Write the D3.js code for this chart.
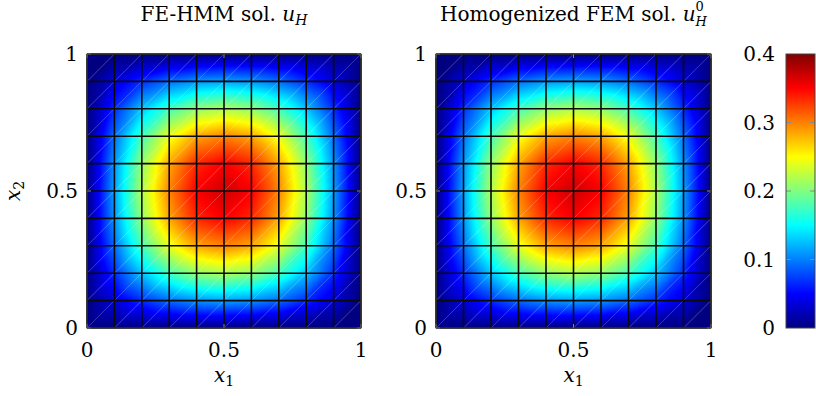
<!DOCTYPE html>
<html><head><meta charset="utf-8">
<script src="https://cdn.jsdelivr.net/npm/d3@7"></script>
<style>
html,body{margin:0;padding:0;background:#fff;}
text{font-family:"DejaVu Serif",serif;fill:#000;}
</style></head>
<body><svg id="chart" width="816" height="396"></svg>
<script>
// ---- data ----
const gridX = [0,0.1,0.2,0.3,0.4,0.5,0.6,0.7,0.8,0.9,1];
const gridY = [0,0.1,0.2,0.3,0.4,0.5,0.6,0.7,0.8,0.9,1];
// nodal values, rows = x2 (bottom to top), columns = x1 (left to right)
const uHMM = [
 [0,0,0,0,0,0,0,0,0,0,0],
 [0,0.035,0.067,0.093,0.109,0.114,0.109,0.093,0.067,0.035,0],
 [0,0.067,0.128,0.176,0.207,0.218,0.207,0.176,0.128,0.067,0],
 [0,0.093,0.176,0.242,0.285,0.299,0.285,0.242,0.176,0.093,0],
 [0,0.109,0.207,0.285,0.335,0.352,0.335,0.285,0.207,0.109,0],
 [0,0.114,0.218,0.299,0.352,0.370,0.352,0.299,0.218,0.114,0],
 [0,0.109,0.207,0.285,0.335,0.352,0.335,0.285,0.207,0.109,0],
 [0,0.093,0.176,0.242,0.285,0.299,0.285,0.242,0.176,0.093,0],
 [0,0.067,0.128,0.176,0.207,0.218,0.207,0.176,0.128,0.067,0],
 [0,0.035,0.067,0.093,0.109,0.114,0.109,0.093,0.067,0.035,0],
 [0,0,0,0,0,0,0,0,0,0,0]
];
const uHom = [
 [0,0,0,0,0,0,0,0,0,0,0],
 [0,0.035,0.067,0.093,0.109,0.114,0.109,0.093,0.067,0.035,0],
 [0,0.067,0.128,0.176,0.207,0.218,0.207,0.176,0.128,0.067,0],
 [0,0.093,0.176,0.242,0.285,0.299,0.285,0.242,0.176,0.093,0],
 [0,0.109,0.207,0.285,0.335,0.352,0.335,0.285,0.207,0.109,0],
 [0,0.114,0.218,0.299,0.352,0.370,0.352,0.299,0.218,0.114,0],
 [0,0.109,0.207,0.285,0.335,0.352,0.335,0.285,0.207,0.109,0],
 [0,0.093,0.176,0.242,0.285,0.299,0.285,0.242,0.176,0.093,0],
 [0,0.067,0.128,0.176,0.207,0.218,0.207,0.176,0.128,0.067,0],
 [0,0.035,0.067,0.093,0.109,0.114,0.109,0.093,0.067,0.035,0],
 [0,0,0,0,0,0,0,0,0,0,0]
];
const axisTicks = [0, 0.5, 1];
const axisTickLabels = ["0", "0.5", "1"];
const cbTicks = [0, 0.1, 0.2, 0.3, 0.4];
const cbTickLabels = ["0", "0.1", "0.2", "0.3", "0.4"];
const cbRange = [0, 0.4];
const jetColors = ["#000080","#0000ff","#00ffff","#ffff00","#ff0000","#800000"];
const jetPos = [0, 1/8, 3/8, 5/8, 7/8, 1];

// ---- setup ----
const svg = d3.select("#chart");
const defs = svg.append("defs");
const jetDomain = jetPos.map(p => cbRange[0] + p*(cbRange[1]-cbRange[0]));
const color = d3.scaleLinear().domain(jetDomain).range(jetColors).interpolate(d3.interpolateRgb).clamp(true);

const TOP = 54, BOTTOM = 328;

function drawPanel(id, data, left, right, titleFn) {
  const x = d3.scaleLinear().domain([0,1]).range([left, right]);
  const y = d3.scaleLinear().domain([0,1]).range([BOTTOM, TOP]);
  const g = svg.append("g");
  const tris = [];
  for (let j = 0; j < gridY.length-1; j++) {
    for (let i = 0; i < gridX.length-1; i++) {
      tris.push([[i,j],[i+1,j],[i+1,j+1]]);
      tris.push([[i,j],[i+1,j+1],[i,j+1]]);
    }
  }
  tris.forEach((t, k) => {
    const P = t.map(([i,j]) => [x(gridX[i]), y(gridY[j])]);
    const V = t.map(([i,j]) => data[j][i]);
    const e1 = [P[1][0]-P[0][0], P[1][1]-P[0][1]];
    const e2 = [P[2][0]-P[0][0], P[2][1]-P[0][1]];
    const d1 = V[1]-V[0], d2 = V[2]-V[0];
    const det = e1[0]*e2[1] - e1[1]*e2[0];
    const a = (d1*e2[1] - e1[1]*d2)/det;
    const b = (e1[0]*d2 - d1*e2[0])/det;
    const g2 = a*a + b*b;
    let fill;
    if (g2 < 1e-14) {
      fill = color(V[0]);
    } else {
      const vmin = d3.min(V), vmax = d3.max(V);
      const gid = `g${id}_${k}`;
      const A = [P[0][0] + (vmin-V[0])*a/g2, P[0][1] + (vmin-V[0])*b/g2];
      const B = [P[0][0] + (vmax-V[0])*a/g2, P[0][1] + (vmax-V[0])*b/g2];
      const lg = defs.append("linearGradient").attr("id", gid)
        .attr("gradientUnits", "userSpaceOnUse")
        .attr("x1", A[0]).attr("y1", A[1]).attr("x2", B[0]).attr("y2", B[1]);
      const stops = [[0, color(vmin)]];
      jetDomain.forEach(v => { if (v > vmin && v < vmax) stops.push([(v-vmin)/(vmax-vmin), color(v)]); });
      stops.push([1, color(vmax)]);
      lg.selectAll("stop").data(stops).enter().append("stop")
        .attr("offset", d => d[0]).attr("stop-color", d => d[1]);
      fill = `url(#${gid})`;
    }
    g.append("path").attr("d", "M" + P.map(p => p.join(",")).join("L") + "Z")
      .attr("fill", fill).attr("stroke", fill).attr("stroke-width", 0.6).attr("stroke-linejoin", "round");
  });
  // diagonals (triangle edges)
  for (let j = 0; j < gridY.length-1; j++) {
    for (let i = 0; i < gridX.length-1; i++) {
      g.append("line").attr("x1", x(gridX[i])).attr("y1", y(gridY[j]))
        .attr("x2", x(gridX[i+1])).attr("y2", y(gridY[j+1]))
        .attr("stroke", "#fff").attr("stroke-opacity", 0.35).attr("stroke-width", 0.5);
    }
  }
  // coarse grid
  gridX.forEach(v => g.append("line").attr("x1", x(v)).attr("x2", x(v)).attr("y1", y(0)).attr("y2", y(1))
    .attr("stroke", "#0a0a0a").attr("stroke-width", 1.6));
  gridY.forEach(v => g.append("line").attr("y1", y(v)).attr("y2", y(v)).attr("x1", x(0)).attr("x2", x(1))
    .attr("stroke", "#0a0a0a").attr("stroke-width", 1.6));
  // ticks (inward, all sides)
  const tk = 4;
  axisTicks.forEach(v => {
    g.append("line").attr("x1", x(v)).attr("x2", x(v)).attr("y1", BOTTOM).attr("y2", BOTTOM-tk).attr("stroke", "#888").attr("stroke-width", 1);
    g.append("line").attr("x1", x(v)).attr("x2", x(v)).attr("y1", TOP).attr("y2", TOP+tk).attr("stroke", "#888").attr("stroke-width", 1);
    g.append("line").attr("y1", y(v)).attr("y2", y(v)).attr("x1", left).attr("x2", left+tk).attr("stroke", "#888").attr("stroke-width", 1);
    g.append("line").attr("y1", y(v)).attr("y2", y(v)).attr("x1", right).attr("x2", right-tk).attr("stroke", "#888").attr("stroke-width", 1);
  });
  // frame
  g.append("rect").attr("x", left).attr("y", TOP).attr("width", right-left).attr("height", BOTTOM-TOP)
    .attr("fill", "none").attr("stroke", "#444").attr("stroke-width", 1);
  // tick labels
  axisTicks.forEach((v, k) => {
    g.append("text").attr("x", x(v)).attr("y", BOTTOM + 29).attr("text-anchor", "middle")
      .attr("font-size", 20).text(axisTickLabels[k]);
    g.append("text").attr("x", left - 9).attr("y", y(v) + 7).attr("text-anchor", "end")
      .attr("font-size", 20).text(axisTickLabels[k]);
  });
  // x label
  const xl = g.append("text").attr("x", (left+right)/2).attr("y", 382).attr("text-anchor", "middle").attr("font-size", 20);
  xl.append("tspan").attr("font-style", "italic").text("x");
  xl.append("tspan").attr("font-size", 14).attr("dy", 4).text("1");
  // title
  const tt = g.append("text").attr("x", (left+right)/2).attr("y", 21).attr("text-anchor", "middle").attr("font-size", 20);
  titleFn(tt);
  return {x, y};
}

drawPanel("a", uHMM, 87, 361, t => {
  t.append("tspan").text("FE-HMM sol. ");
  t.append("tspan").attr("font-style", "italic").text("u");
  t.append("tspan").attr("font-style", "italic").attr("font-size", 14).attr("dy", 4).text("H");
});
drawPanel("b", uHom, 436, 711, t => {
  t.append("tspan").text("Homogenized FEM sol. ");
  t.append("tspan").attr("font-style", "italic").text("u");
  t.append("tspan").attr("font-size", 13).attr("dy", -10).text("0");
  t.append("tspan").attr("font-style", "italic").attr("font-size", 13).attr("dx", -8.3).attr("dy", 15).text("H");
});

// y label (left panel only)
const yl = svg.append("text").attr("transform", `translate(20,${(TOP+BOTTOM)/2}) rotate(-90)`)
  .attr("text-anchor", "middle").attr("font-size", 20);
yl.append("tspan").attr("font-style", "italic").text("x");
yl.append("tspan").attr("font-size", 14).attr("dy", 4).text("2");

// colorbar
const cbL = 786, cbR = 815;
const cy = d3.scaleLinear().domain(cbRange).range([BOTTOM, TOP]);
const cg = defs.append("linearGradient").attr("id", "cbgrad").attr("x1", 0).attr("y1", 1).attr("x2", 0).attr("y2", 0);
cg.selectAll("stop").data(jetDomain).enter().append("stop")
  .attr("offset", d => (d - cbRange[0])/(cbRange[1]-cbRange[0])).attr("stop-color", d => color(d));
svg.append("rect").attr("x", cbL).attr("y", cy(cbRange[1])).attr("width", cbR-cbL).attr("height", cy(cbRange[0]) - cy(cbRange[1]))
  .attr("fill", "url(#cbgrad)");
cbTicks.forEach((v, k) => {
  if (v > cbRange[0] && v < cbRange[1]) {
    svg.append("line").attr("x1", cbL).attr("x2", cbL+5).attr("y1", cy(v)).attr("y2", cy(v)).attr("stroke", "#888").attr("stroke-width", 1);
    svg.append("line").attr("x1", cbR).attr("x2", cbR-5).attr("y1", cy(v)).attr("y2", cy(v)).attr("stroke", "#888").attr("stroke-width", 1);
  }
  svg.append("text").attr("x", cbL - 11).attr("y", cy(v) + 7).attr("text-anchor", "end").attr("font-size", 20).text(cbTickLabels[k]);
});
svg.append("rect").attr("x", cbL).attr("y", TOP).attr("width", cbR-cbL).attr("height", BOTTOM-TOP)
  .attr("fill", "none").attr("stroke", "#444").attr("stroke-width", 1);
</script></body></html>
